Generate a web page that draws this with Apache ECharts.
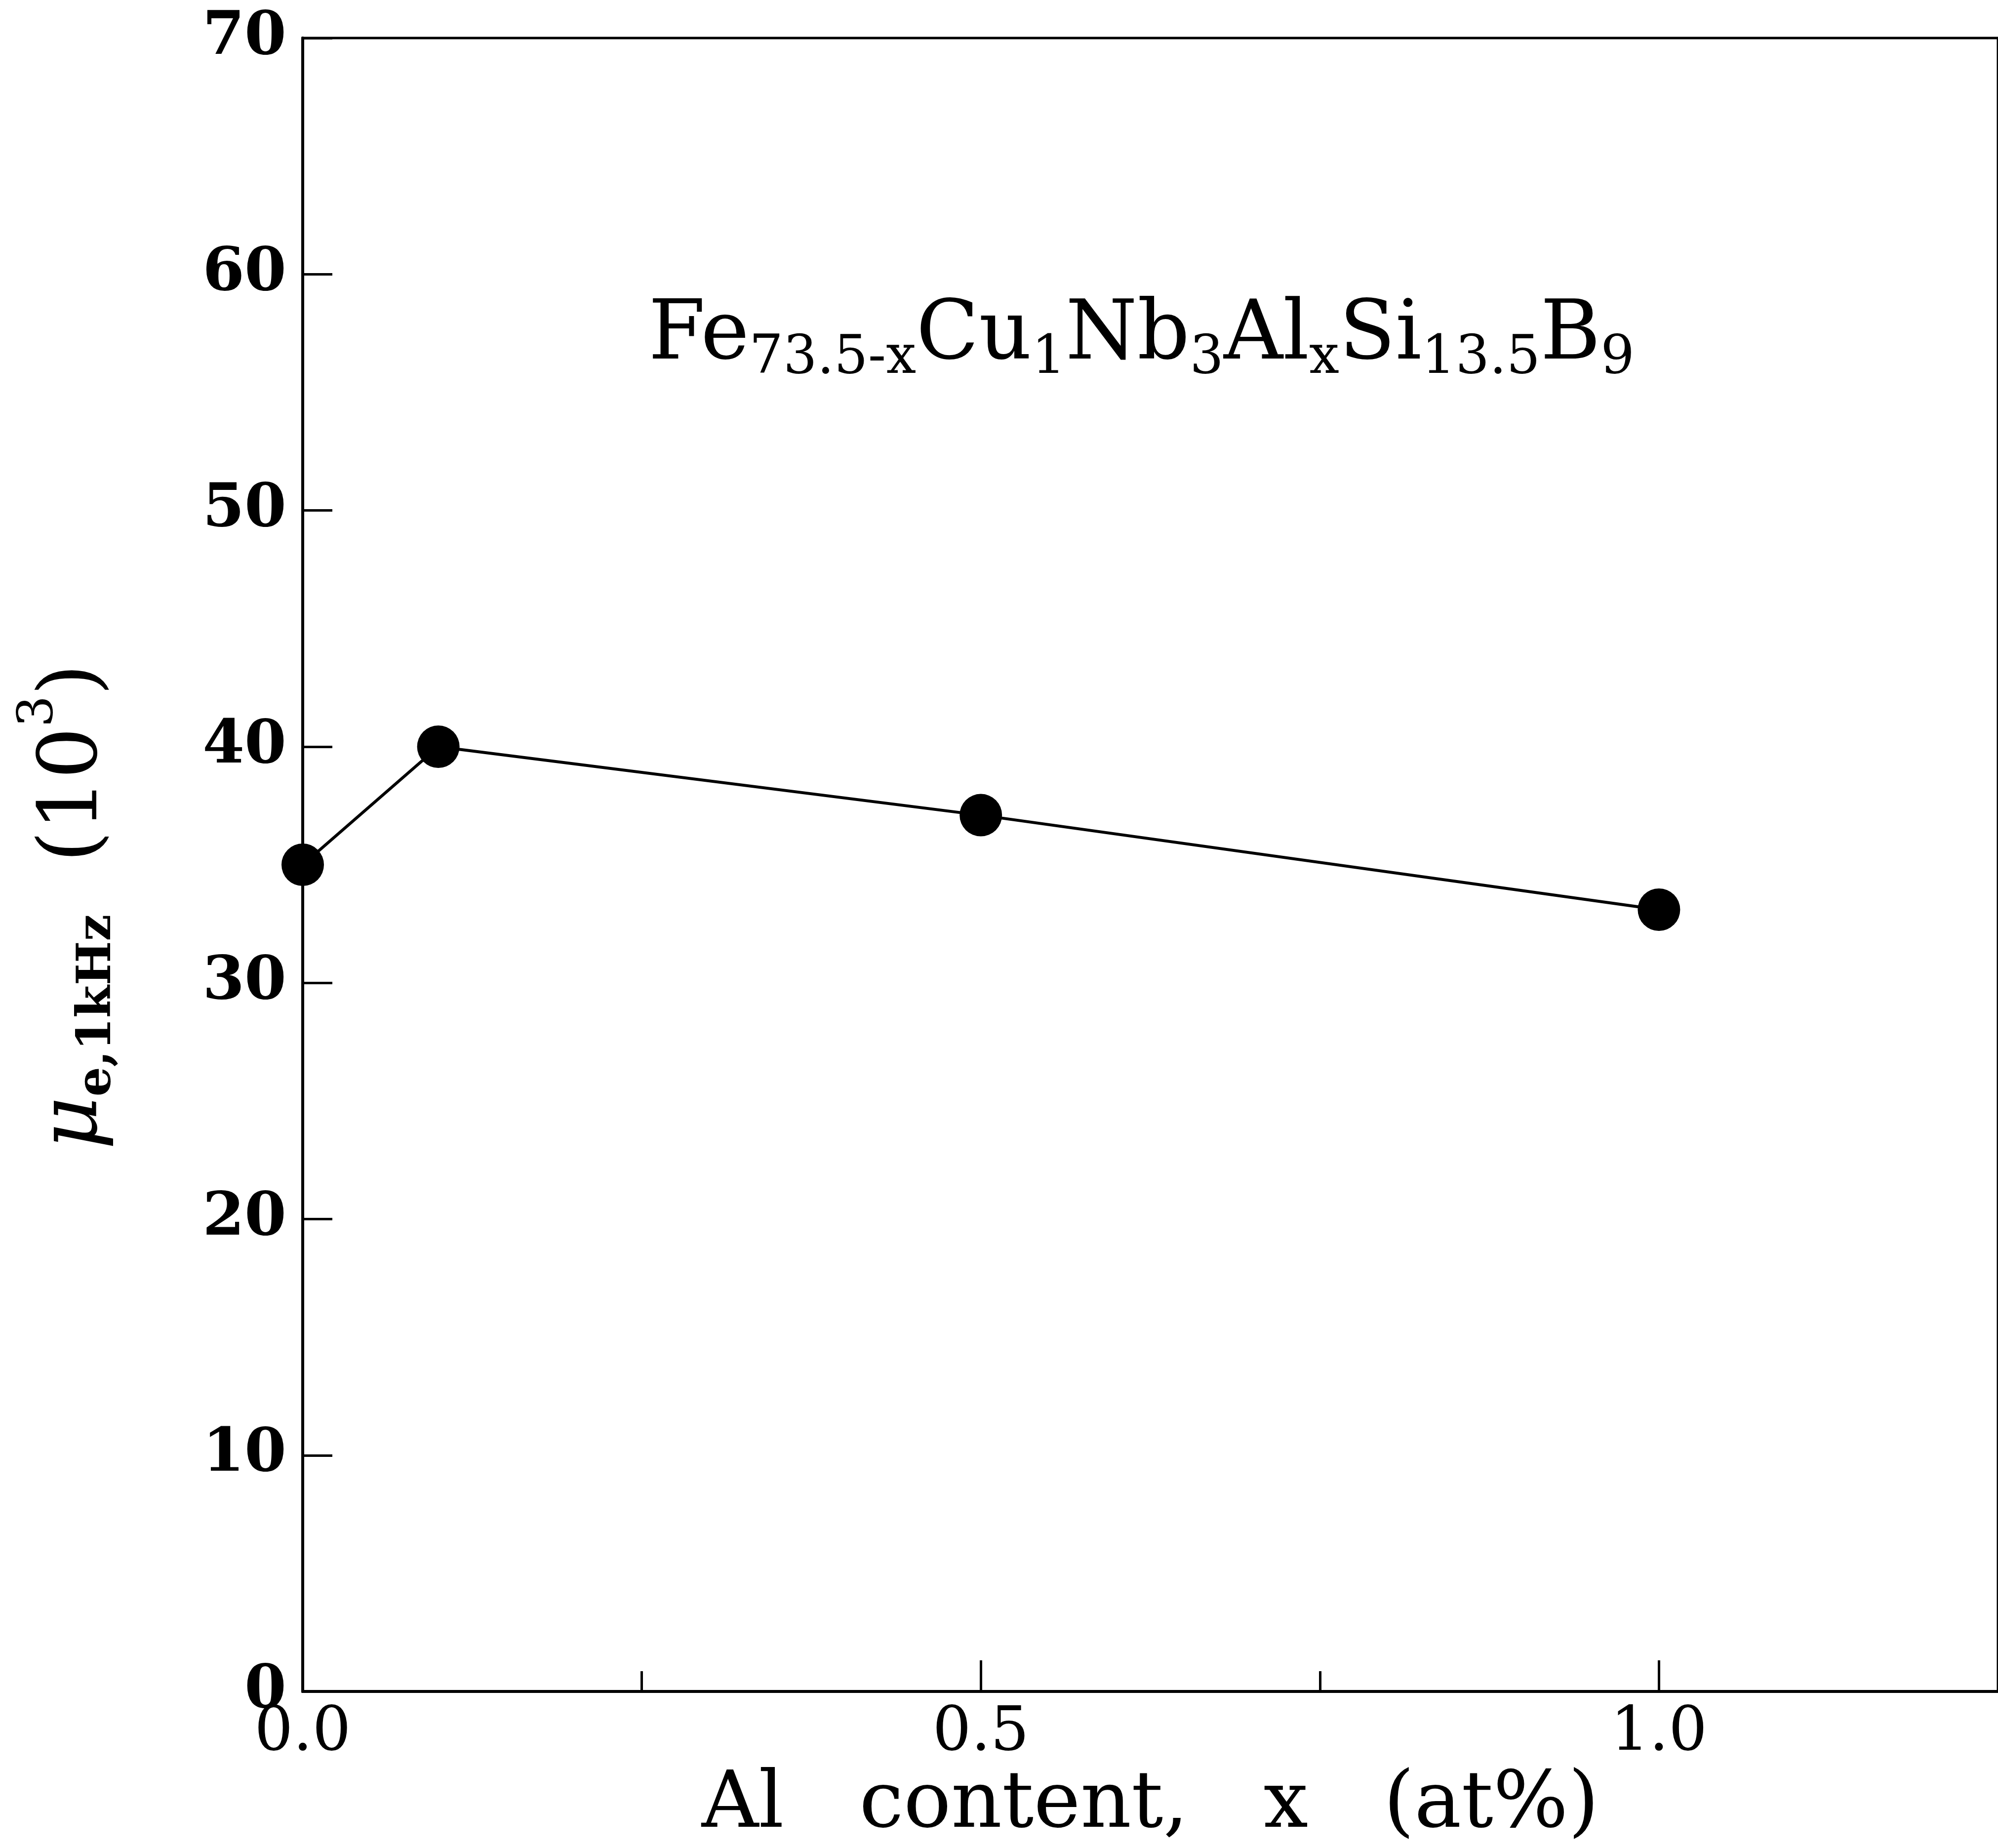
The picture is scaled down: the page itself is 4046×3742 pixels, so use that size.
<!DOCTYPE html>
<html>
<head>
<meta charset="utf-8">
<title>Al content vs permeability</title>
<script src="https://cdn.jsdelivr.net/npm/echarts@6/dist/echarts.min.js"></script>
<style>
  html, body {
    margin: 0;
    padding: 0;
    background: #fff;
  }
  #chart {
    width: 4046px;
    height: 3742px;
  }
</style>
</head>
<body>
<div id="chart"></div>
<script>
// data
const alContent = [0, 0.1, 0.5, 1.0];          // x, at%
const permeability = [35.0, 40.0, 37.1, 33.1];  // mu_e at 1 kHz, in 10^3

const xMin = 0, xMax = 1.25;
const yMin = 0, yMax = 70;

const serif = "'DejaVu Serif', 'Liberation Serif', serif";

const points = alContent.map((x, i) => [x, permeability[i]]);

const myChart = echarts.init(document.getElementById("chart"), null, { renderer: "canvas" });

const options = {
  animation: false,
  backgroundColor: "#fff",
  title: {
    // composition label
    text: "{m|Fe}{s|73.5-x}{m|Cu}{s|1}{m|Nb}{s|3}{m|Al}{s|x}{m|Si}{s|13.5}{m|B}{s|9}",
    left: 1313,
    top: 573,
    padding: 0,
    textStyle: {
      fontWeight: "normal",
      rich: {
        m: { fontFamily: serif, fontWeight: "normal", fontSize: 166, color: "#000", lineHeight: 220 },
        s: { fontFamily: serif, fontWeight: "normal", fontSize: 108, color: "#000", verticalAlign: "bottom", padding: [0, 0, 12, 0] },
      },
    },
  },
  grid: {
    left: 613,
    top: 77,
    bottom: 307,
    right: -9,
    show: true,
    borderColor: "#000",
    borderWidth: 5,
    containLabel: false,
  },
  xAxis: [
    {
      type: "value",
      position: "bottom",
      min: xMin,
      max: xMax,
      interval: 0.5,
      name: "Al   content,   x   (at%)",
      nameLocation: "middle",
      nameGap: 130,
      nameTextStyle: {
        fontFamily: serif,
        fontSize: 160,
        lineHeight: 160,
        color: "#000",
      },
      axisLine: { show: true, lineStyle: { color: "#000", width: 6 } },
      axisTick: { show: true, inside: true, length: 63, lineStyle: { color: "#000", width: 5 } },
      axisLabel: {
        margin: 24,
        fontFamily: serif,
        fontSize: 123,
        color: "#000",
        showMaxLabel: false,
        formatter: function (v) {
          // only 0.0, 0.5, 1.0 carry labels
          if (Math.abs(v * 2 - Math.round(v * 2)) < 1e-9 && v <= 1.0) {
            return v.toFixed(1);
          }
          return "";
        },
      },
      splitLine: { show: false },
    },
    {
      // short ticks every 0.25, same bottom edge
      type: "value",
      position: "bottom",
      min: xMin,
      max: xMax,
      interval: 0.25,
      axisLine: { show: false },
      axisTick: { show: true, inside: true, length: 41, lineStyle: { color: "#000", width: 5 } },
      axisLabel: { show: false },
      splitLine: { show: false },
    },
  ],
  yAxis: {
    type: "value",
    min: yMin,
    max: yMax,
    interval: 10,
    name: "{mu|μ}{sub|e,1kHz}{n|  }{p|(}{n|10}{sup|3}{p|)}",
    nameLocation: "middle",
    nameGap: 336,
    nameTextStyle: {
      padding: [0, 170, 0, 0],
      rich: {
        mu: { fontFamily: serif, fontStyle: "italic", fontSize: 165, color: "#000", lineHeight: 250 },
        sub: { fontFamily: serif, fontWeight: "bold", fontSize: 95, color: "#000", verticalAlign: "bottom", padding: [0, 0, 31, 0] },
        p: { fontFamily: serif, fontSize: 165, color: "#000", lineHeight: 250 },
        n: { fontFamily: serif, fontSize: 165, color: "#000", lineHeight: 250 },
        sup: { fontFamily: serif, fontSize: 100, color: "#000", verticalAlign: "top", padding: [3, 0, 0, 0] },
      },
    },
    axisLine: { show: true, lineStyle: { color: "#000", width: 6 } },
    axisTick: { show: true, inside: true, length: 60, lineStyle: { color: "#000", width: 5 } },
    axisLabel: {
      margin: 33,
      fontFamily: serif,
      fontWeight: "bold",
      fontSize: 122,
      color: "#000",
    },
    splitLine: { show: false },
  },
  series: [
    {
      type: "line",
      xAxisIndex: 0,
      data: points,
      symbol: "circle",
      symbolSize: 86,
      showSymbol: true,
      itemStyle: { color: "#000" },
      lineStyle: { color: "#000", width: 6 },
    },
  ],
};

myChart.setOption(options);
</script>
</body>
</html>
